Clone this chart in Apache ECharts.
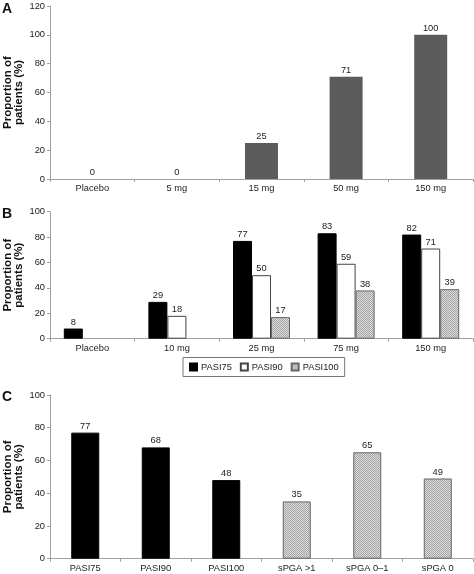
<!DOCTYPE html>
<html><head><meta charset="utf-8">
<script src="https://cdn.jsdelivr.net/npm/echarts@6/dist/echarts.min.js"></script>
<style>html,body{margin:0;padding:0;background:#fff}#c{width:474px;height:574px}</style>
</head><body><div id="c"></div>
<script>
// Panel A
var aCategories = ['Placebo', '5 mg', '15 mg', '50 mg', '150 mg'];
var aValues = [0, 0, 25, 71, 100];
// Panel B
var bCategories = ['Placebo', '10 mg', '25 mg', '75 mg', '150 mg'];
var bPASI75 = [8, 29, 77, 83, 82];
var bPASI90 = [null, 18, 50, 59, 71];
var bPASI100 = [null, null, 17, 38, 39];
// Panel C
var cCategories = ['PASI75', 'PASI90', 'PASI100', 'sPGA >1', 'sPGA 0\u20131', 'sPGA 0'];
var cValues = [77, 68, 48, 35, 65, 49];
var cGroups = ['PASI', 'PASI', 'PASI', 'sPGA', 'sPGA', 'sPGA'];
// ticks
var aYTicks = {min: 0, max: 120, interval: 20};
var bYTicks = {min: 0, max: 100, interval: 20};
var cYTicks = {min: 0, max: 100, interval: 20};

var FONT = 'Arial, "Liberation Sans", sans-serif';
var pc = document.createElement('canvas');
pc.width = 2; pc.height = 2;
var g = pc.getContext('2d');
g.fillStyle = '#dadada'; g.fillRect(0, 0, 2, 2);
g.fillStyle = '#a6a6a6';
g.fillRect(0, 0, 1, 1); g.fillRect(1, 1, 1, 1);
var pattern = {image: pc, repeat: 'repeat'};

var axisLineC = '#a0a0a0';
function xAx(idx, cats) {
  return {
    type: 'category', gridIndex: idx, data: cats,
    axisLine: {lineStyle: {color: axisLineC, width: 1}},
    axisTick: {show: true, length: 3, lineStyle: {color: axisLineC}},
    axisLabel: {color: '#222', fontSize: 9.3, fontFamily: FONT, margin: 5}
  };
}
function yAx(idx, t) {
  return {
    type: 'value', gridIndex: idx, min: t.min, max: t.max, interval: t.interval,
    name: 'Proportion of\npatients (%)', nameLocation: 'middle', nameGap: 26,
    nameMoveOverlap: false,
    nameTextStyle: {fontSize: 11.5, fontWeight: 'bold', fontFamily: FONT, color: '#111', lineHeight: 11},
    axisLine: {show: true, lineStyle: {color: axisLineC}},
    axisTick: {show: true, length: 3, lineStyle: {color: axisLineC}},
    splitLine: {show: false},
    axisLabel: {color: '#222', fontSize: 9.3, fontFamily: FONT, margin: 5}
  };
}
var lbl = {show: true, position: 'top', distance: 2, color: '#222', fontSize: 9.3, fontFamily: FONT};

var chart = echarts.init(document.getElementById('c'), null, {renderer: 'canvas'});
chart.setOption({
  animation: false,
  backgroundColor: '#fff',
  grid: [
    {left: 50, right: 1, top: 6, height: 173, containLabel: false, outerBoundsMode: 'none'},
    {left: 50, right: 1, top: 211.7, height: 127, containLabel: false, outerBoundsMode: 'none'},
    {left: 50, right: 1, top: 395, height: 163.7, containLabel: false, outerBoundsMode: 'none'}
  ],
  xAxis: [xAx(0, aCategories), xAx(1, bCategories), xAx(2, cCategories)],
  yAxis: [yAx(0, aYTicks), yAx(1, bYTicks), yAx(2, cYTicks)],
  legend: {
    data: ['PASI75', 'PASI90', 'PASI100'],
    left: 183, top: 357.5,
    itemWidth: 7, itemHeight: 7, itemGap: 8,
    padding: [5, 6, 5, 6],
    borderColor: '#777', borderWidth: 1,
    textStyle: {fontSize: 9.3, fontFamily: FONT, color: '#222', padding: [0, 0, 0, -1]},
    icon: 'rect'
  },
  series: [
    {type: 'bar', xAxisIndex: 0, yAxisIndex: 0, data: aValues, barWidth: 33,
     itemStyle: {color: '#5c5c5c', borderWidth: 0}, label: lbl},
    {name: 'PASI75', type: 'bar', xAxisIndex: 1, yAxisIndex: 1, data: bPASI75, barWidth: 19, barGap: '0%',
     itemStyle: {color: '#000', borderColor: '#000', borderWidth: 1}, label: lbl},
    {name: 'PASI90', type: 'bar', xAxisIndex: 1, yAxisIndex: 1, data: bPASI90, barWidth: 19, barGap: '0%',
     itemStyle: {color: '#fff', borderColor: '#444', borderWidth: 1}, label: lbl},
    {name: 'PASI100', type: 'bar', xAxisIndex: 1, yAxisIndex: 1, data: bPASI100, barWidth: 19, barGap: '0%',
     itemStyle: {color: pattern, borderColor: '#666', borderWidth: 1}, label: lbl},
    {type: 'bar', xAxisIndex: 2, yAxisIndex: 2, barWidth: 28,
     data: cValues.map(function (v, i) {
       return {value: v, itemStyle: cGroups[i] === 'PASI'
         ? {color: '#000', borderColor: '#000', borderWidth: 1}
         : {color: pattern, borderColor: '#666', borderWidth: 1}};
     }), label: lbl}
  ],
  graphic: [
    {type: 'text', left: 2, top: 2, style: {text: 'A', font: 'bold 14px ' + FONT, fill: '#111'}},
    {type: 'text', left: 2, top: 207, style: {text: 'B', font: 'bold 14px ' + FONT, fill: '#111'}},
    {type: 'text', left: 2, top: 390, style: {text: 'C', font: 'bold 14px ' + FONT, fill: '#111'}}
  ]
});
</script></body></html>
